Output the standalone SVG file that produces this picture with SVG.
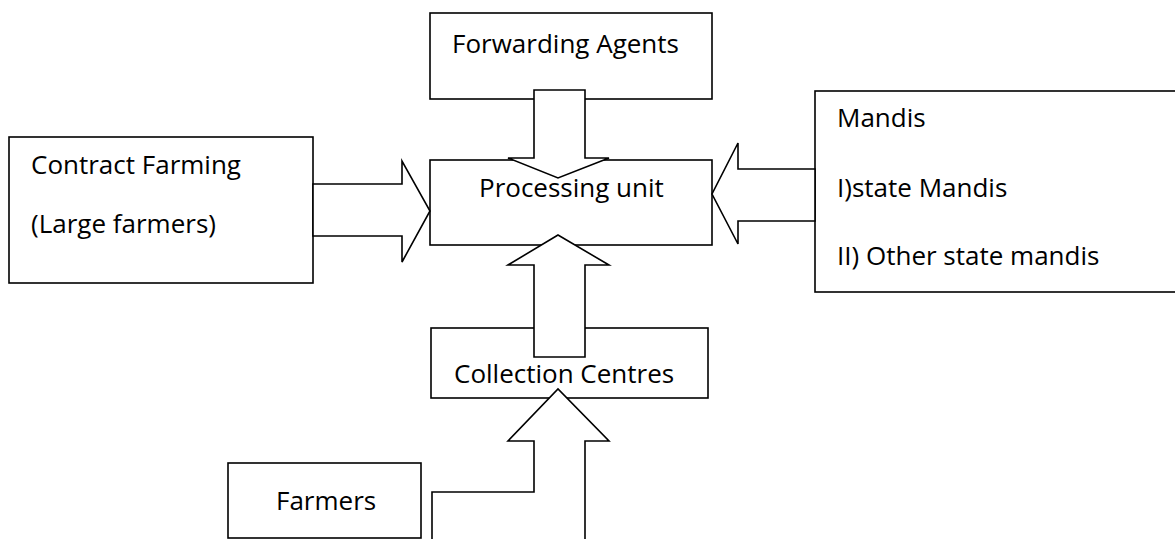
<svg xmlns="http://www.w3.org/2000/svg" width="1175" height="539" viewBox="0 0 1175 539">
<style>
.box{fill:#fff;stroke:#000;stroke-width:1.6}
.arrow{fill:#fff;stroke:#000;stroke-width:1.6;stroke-linejoin:miter}
.lbl{font-family:"Open Sans","Liberation Sans",sans-serif;font-size:26px;fill:#000}
</style>
<rect width="1175" height="539" fill="#fff"/>
<g id="forwarding-agents">
<rect class="box" x="430" y="13" width="282" height="86"/>
<text class="lbl" x="452" y="53">Forwarding Agents</text>
</g>
<g id="processing-unit">
<rect class="box" x="430" y="160" width="282" height="85"/>
<text class="lbl" x="479" y="197">Processing unit</text>
</g>
<g id="contract-farming">
<rect class="box" x="9" y="137" width="304" height="146"/>
<text class="lbl" x="31" y="174">Contract Farming</text>
<text class="lbl" x="31" y="233">(Large farmers)</text>
</g>
<g id="mandis">
<rect class="box" x="815" y="91" width="370" height="201"/>
<text class="lbl" x="837" y="127">Mandis</text>
<text class="lbl" x="837" y="197">I)state Mandis</text>
<text class="lbl" x="837" y="265">II) Other state mandis</text>
</g>
<g id="collection-centres">
<rect class="box" x="431" y="328" width="277" height="70"/>
<text class="lbl" x="454" y="383">Collection Centres</text>
</g>
<g id="farmers">
<rect class="box" x="228" y="463" width="193" height="75"/>
<text class="lbl" x="276" y="510">Farmers</text>
</g>
<g id="connectors">
<polygon class="arrow" points="534,90 585,90 585,158 609,158 558,178 508,158 534,158"/>
<polygon class="arrow" points="313,184 402,184 402,161 430,211 402,262 402,236 313,236"/>
<polygon class="arrow" points="815,169 738,169 738,143 712,194 738,244 738,221 815,221"/>
<polygon class="arrow" points="558,235 609,265 585,265 585,357 534,357 534,265 508,265"/>
<polygon class="arrow" points="432,545 432,492 534,492 534,441 508,441 558,389 609,441 585,441 585,545"/>
</g>
</svg>
